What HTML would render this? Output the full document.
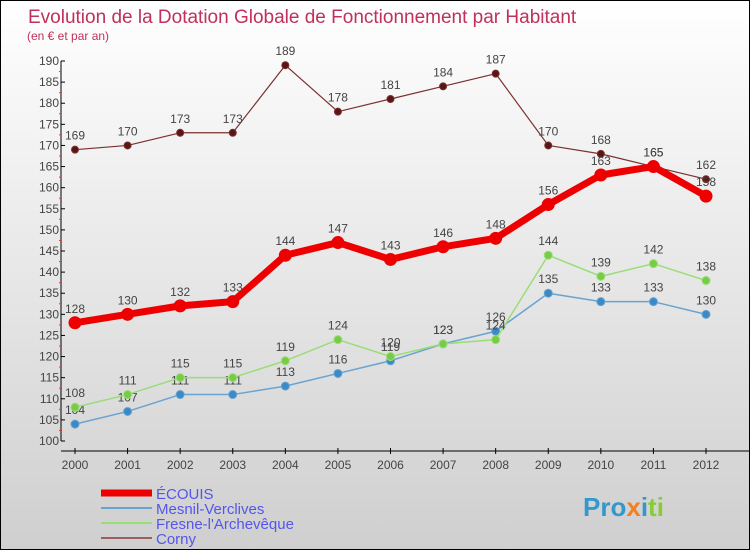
<!DOCTYPE html>
<html><head><meta charset="utf-8"><style>
body{margin:0;width:750px;height:550px;overflow:hidden;font-family:"Liberation Sans",sans-serif}
#c{position:absolute;left:0;top:0;width:748px;height:548px;border:1px solid #000;background:linear-gradient(#ffffff,#cfcfcf)}
</style></head><body>
<div id="c">
<svg width="748" height="548" xmlns="http://www.w3.org/2000/svg" id="svg">
<text x="27" y="22" font-size="19" fill="#c0305a">Evolution de la Dotation Globale de Fonctionnement par Habitant</text>
<text x="26" y="39" font-size="12" fill="#c0305a">(en € et par an)</text>
<g id="axes"></g>
<g id="series"></g>
<g id="legend"></g>
<text x="582" y="515" font-size="26" font-weight="bold" fill="#3399cc">Pro<tspan fill="#f08020">x</tspan><tspan fill="#3399cc">i</tspan><tspan fill="#88cc33">ti</tspan></text>
</svg></div>
<script>
const years=[2000,2001,2002,2003,2004,2005,2006,2007,2008,2009,2010,2011,2012];
const ecouis=[128,130,132,133,144,147,143,146,148,156,163,165,158];
const mesnil=[104,107,111,111,113,116,119,123,126,135,133,133,130];
const fresne=[108,111,115,115,119,124,120,123,124,144,139,142,138];
const corny=[169,170,173,173,189,178,181,184,187,170,168,165,162];
const yTicks=[100,105,110,115,120,125,130,135,140,145,150,155,160,165,170,175,180,185,190];
const NS="http://www.w3.org/2000/svg";
function X(i){return 74+i*(705-74)/12;}
function Y(v){return 440-(v-100)*380/90;}
function mk(t,a,p){const e=document.createElementNS(NS,t);for(const k in a)e.setAttribute(k,a[k]);p.appendChild(e);return e;}
const ax=document.getElementById('axes');
let l=mk('line',{x1:60,y1:Y(190),x2:60,y2:Y(100),stroke:'#000'},ax);


l=mk('line',{x1:60,y1:450,x2:748,y2:450,stroke:'#000'},ax);


yTicks.forEach(v=>{
 mk('line',{x1:60,y1:Y(v),x2:64,y2:Y(v),stroke:'#000'},ax);
 if(v<190)mk('line',{x1:58,y1:Y(v+2.5),x2:60,y2:Y(v+2.5),stroke:'#e33'},ax);
 const t=mk('text',{x:58,y:Y(v)+4,'font-size':12,fill:'#444','text-anchor':'end'},ax);t.textContent=v;
 
 
});
years.forEach((y,i)=>{
 mk('line',{x1:X(i),y1:447,x2:X(i),y2:453,stroke:'#000'},ax);
 const t=mk('text',{x:X(i),y:468,'font-size':12,fill:'#444','text-anchor':'middle'},ax);t.textContent=y;
 
 
});
const sg=document.getElementById('series');
function draw(data,color,w,r,dot,name){
 const g=mk('g',{},sg);
 
 
 mk('polyline',{points:data.map((v,i)=>X(i)+','+Y(v)).join(' '),fill:'none',stroke:color,'stroke-width':w,'stroke-linejoin':'round'},g);
 data.forEach((v,i)=>{
  const c=mk('circle',{cx:X(i),cy:Y(v),r:r,fill:dot,stroke:color,'stroke-width':1},g);
  
  
  const t=mk('text',{x:X(i),y:Y(v)-10,'font-size':12,fill:'#444','text-anchor':'middle'},g);t.textContent=v;
  
  
 });
}
draw(mesnil,'#6aa3d0',1.5,4,'#3b8ac8','mesnil');
draw(fresne,'#99dd77',1.5,4,'#77cc44','fresne');
draw(corny,'#7a3030',1.2,3.5,'#5a1515','corny');
draw(ecouis,'#ee0000',7,6,'#ee0000','ecouis');
const lg=document.getElementById('legend');
[['ÉCOUIS','#ee0000',7],['Mesnil-Verclives','#6aa3d0',2],['Fresne-l\'Archevêque','#99dd77',2],['Corny','#9a6060',2]].forEach((e,i)=>{
 const y=492+i*15;
 mk('line',{x1:100,y1:y,x2:151,y2:y,stroke:e[1],'stroke-width':e[2]},lg);
 const t=mk('text',{x:155,y:y+6,'font-size':15,fill:'#5555ee'},lg);t.textContent=e[0];
 
 
});
</script>
</body></html>
